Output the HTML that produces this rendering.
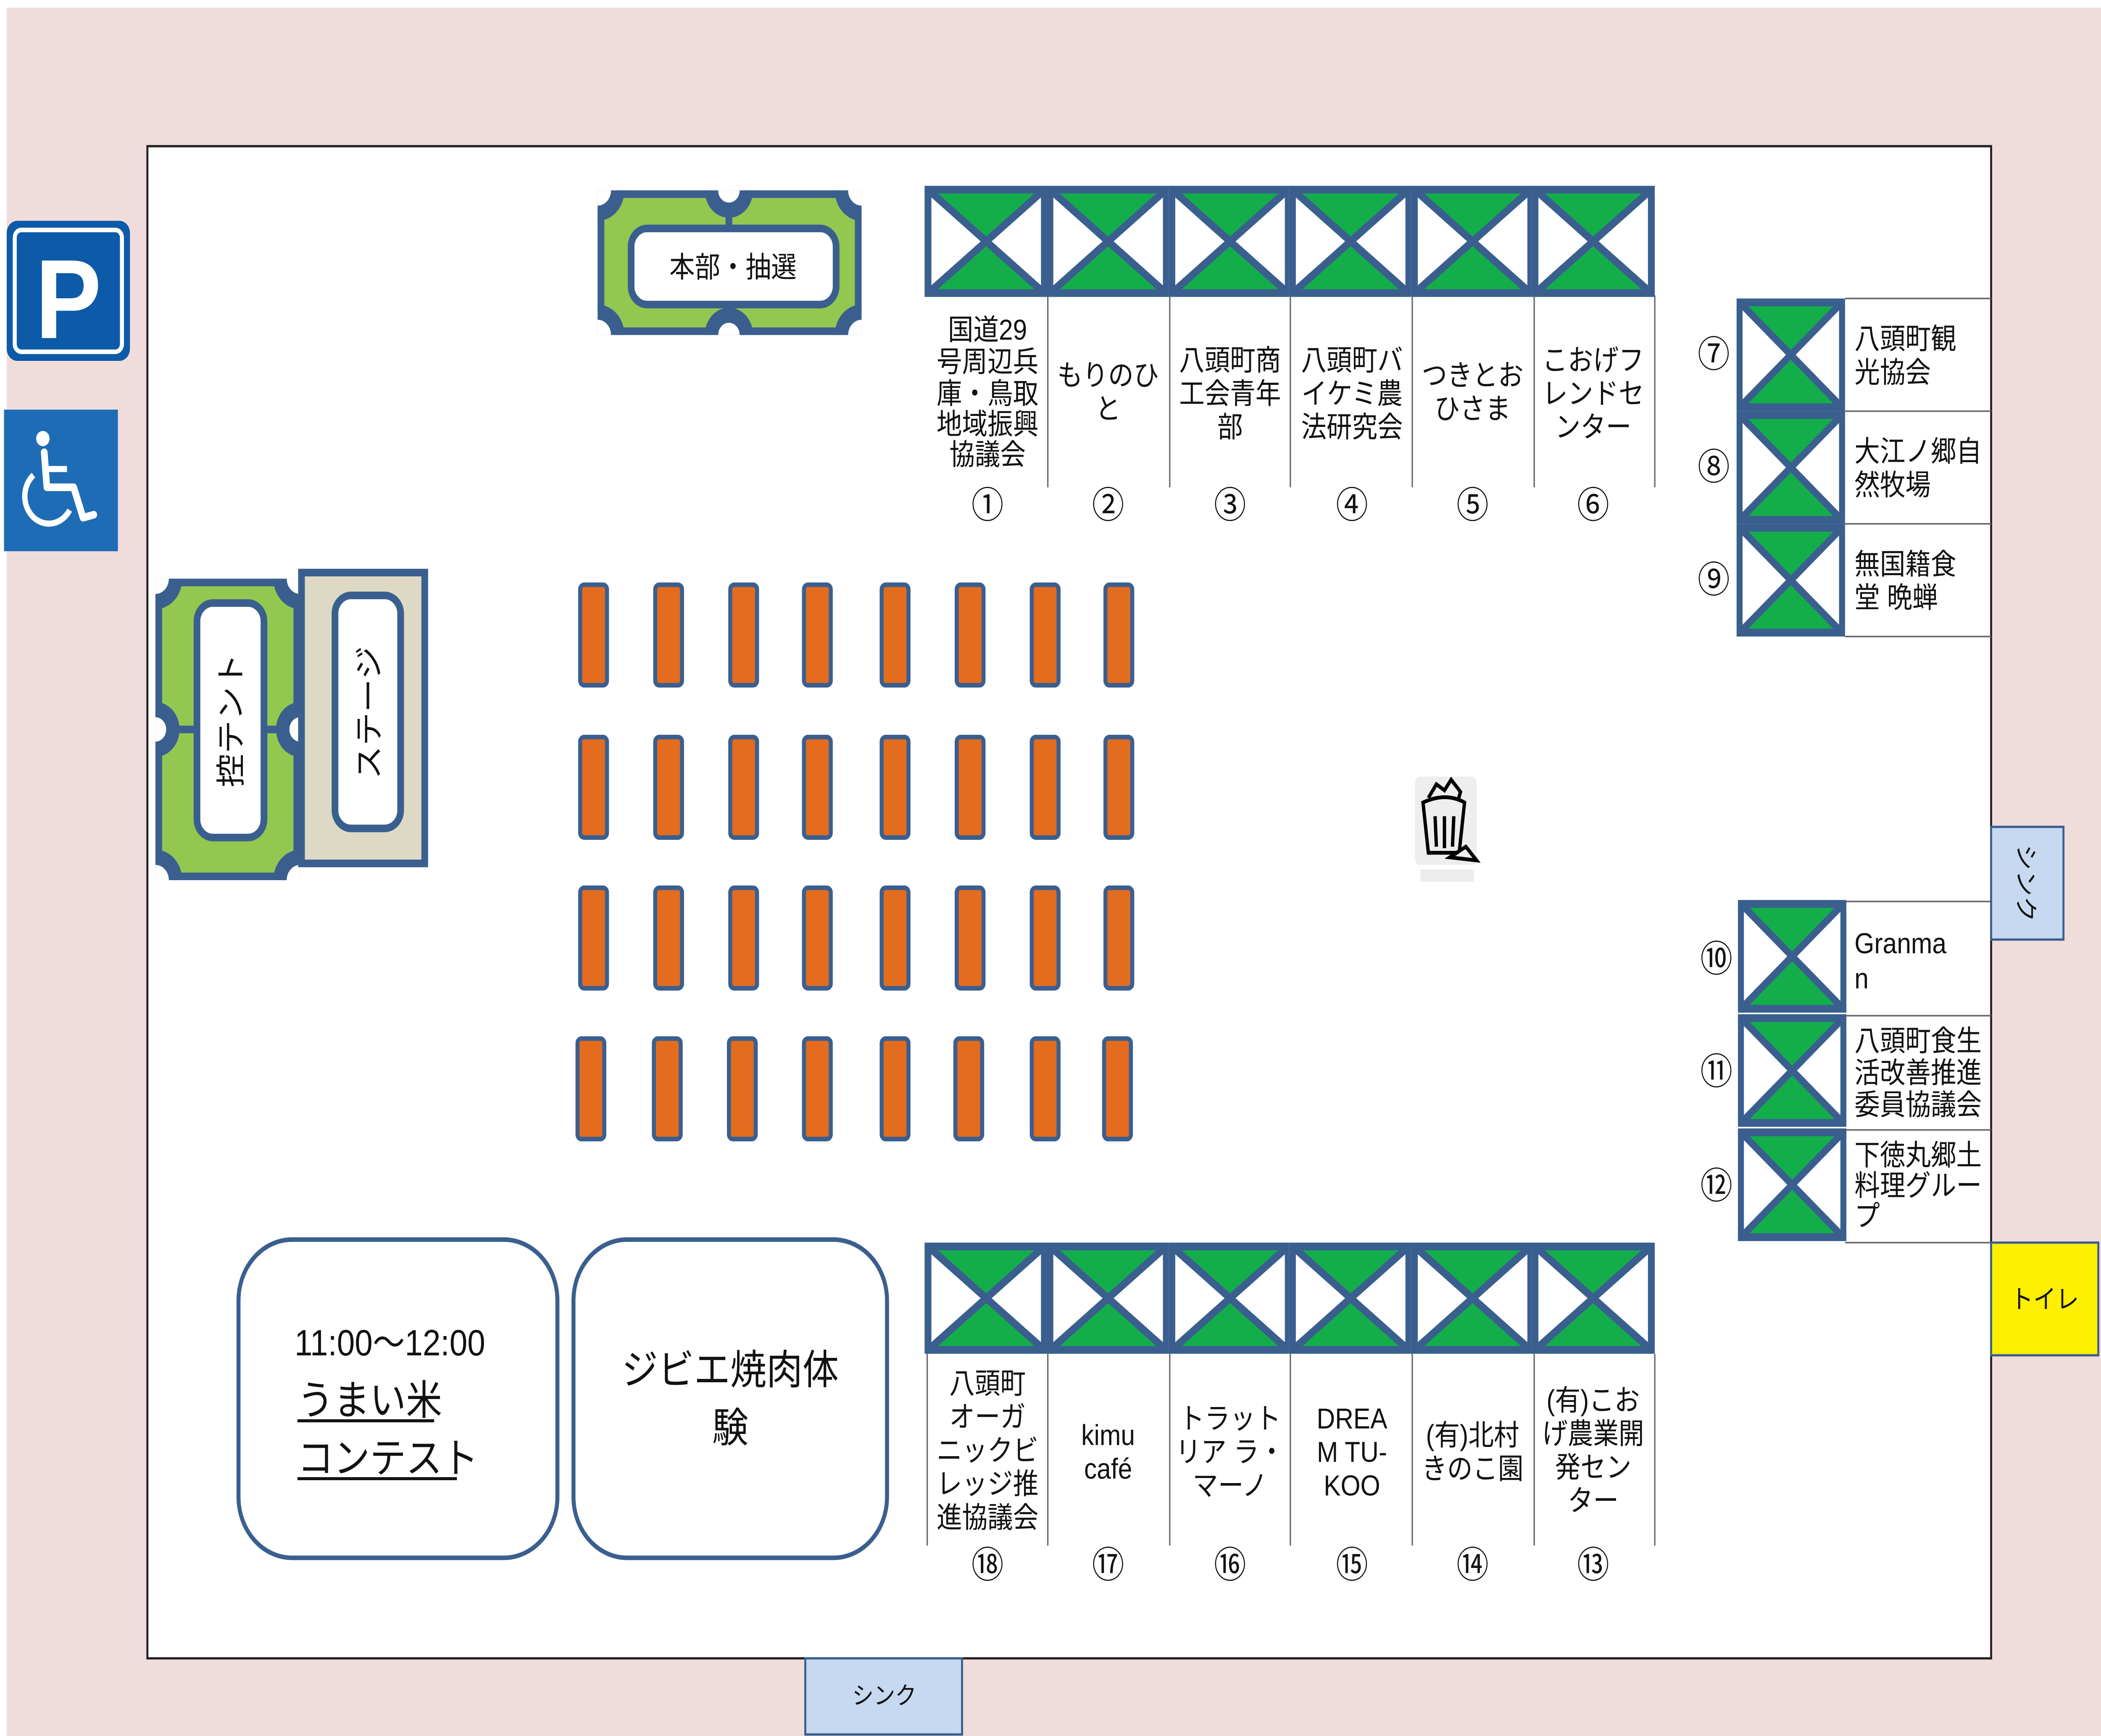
<!DOCTYPE html>
<html><head><meta charset="utf-8"><style>
html,body{margin:0;padding:0;background:#fff;width:100%;height:100%;overflow:hidden;}
svg{display:block;position:absolute;left:0;top:0;width:100vw;height:100vh;}
text{font-family:"Liberation Sans","Noto Sans CJK JP",sans-serif;fill:#111;}
</style></head><body>
<svg xmlns="http://www.w3.org/2000/svg" viewBox="0 0 1568 1140" preserveAspectRatio="none">
<defs>
<symbol id="b" viewBox="0 0 90 72" preserveAspectRatio="none">
<rect x="0" y="0" width="90" height="72" fill="#fff"/>
<polygon points="0,0 90,0 45,36" fill="#13ae4a"/>
<polygon points="0,72 90,72 45,36" fill="#13ae4a"/>
<line x1="2" y1="2" x2="88" y2="70" stroke="#3a5f8f" stroke-width="5"/>
<line x1="88" y1="2" x2="2" y2="70" stroke="#3a5f8f" stroke-width="5"/>
<rect x="2.5" y="2.5" width="85" height="67" fill="none" stroke="#3a5f8f" stroke-width="5"/>
</symbol>
<rect id="t" width="20" height="66" rx="3" fill="#e36c1f" stroke="#3a5f8f" stroke-width="3"/>
<clipPath id="c1"><rect x="116" y="380" width="108" height="198"/></clipPath>
<clipPath id="c2"><rect x="446" y="125" width="197" height="95"/></clipPath>
</defs>
<rect x="0" y="0" width="1568" height="1140" fill="#fff"/>
<rect x="5" y="5" width="1563" height="1135" fill="#f1dcdc"/>
<rect x="110" y="96" width="1376" height="993" fill="#fff" stroke="#222" stroke-width="1.5"/>

<rect x="5" y="145" width="92" height="92" rx="8" fill="#0c5aa8"/>
<rect x="11" y="151" width="80" height="80" rx="5" fill="none" stroke="#fff" stroke-width="3"/>
<text x="51" y="222" font-size="74" font-weight="bold" text-anchor="middle" style="fill:#fff">P</text>
<rect x="3" y="269" width="85" height="93" fill="#1f6cb6"/>
<circle cx="32" cy="288" r="5" fill="#fff"/>
<path d="M33 297 L35 320 L55 320 L62 340 L70 338" fill="none" stroke="#fff" stroke-width="5" stroke-linecap="round" stroke-linejoin="round"/>
<path d="M25 312 A18 18 0 1 0 52 335" fill="none" stroke="#fff" stroke-width="4"/>
<line x1="34" y1="308" x2="50" y2="308" stroke="#fff" stroke-width="4"/>

<g clip-path="url(#c2)">
<rect x="446" y="125" width="197" height="95" fill="#92c850" stroke="#3a5f8f" stroke-width="10"/>
<line x1="544" y1="125" x2="544" y2="220" stroke="#3a5f8f" stroke-width="5"/>
<g fill="#fff" stroke="#3a5f8f" stroke-width="10">
<circle cx="446" cy="125" r="15"/><circle cx="643" cy="125" r="15"/>
<circle cx="446" cy="220" r="15"/><circle cx="643" cy="220" r="15"/>
<circle cx="544" cy="125" r="13"/><circle cx="544" cy="220" r="13"/>
</g></g>
<rect x="471" y="150" width="153" height="50" rx="12" fill="#fff" stroke="#3a5f8f" stroke-width="5"/>
<text x="547" y="182" font-size="19" text-anchor="middle">本部・抽選</text>

<g clip-path="url(#c1)">
<rect x="116" y="380" width="108" height="198" fill="#92c850" stroke="#3a5f8f" stroke-width="10"/>
<line x1="116" y1="479" x2="224" y2="479" stroke="#3a5f8f" stroke-width="5"/>
<g fill="#fff" stroke="#3a5f8f" stroke-width="10">
<circle cx="116" cy="380" r="15"/><circle cx="224" cy="380" r="15"/>
<circle cx="116" cy="578" r="15"/><circle cx="224" cy="578" r="15"/>
<circle cx="116" cy="479" r="13"/><circle cx="224" cy="479" r="13"/>
</g></g>
<rect x="147" y="396" width="50" height="154" rx="12" fill="#fff" stroke="#3a5f8f" stroke-width="5"/>
<text transform="translate(180,473) rotate(-90)" font-size="22" text-anchor="middle">控テント</text>
<rect x="225" y="376" width="92" height="191" fill="#ddd9c4" stroke="#3a5f8f" stroke-width="5"/>
<rect x="250" y="391" width="49" height="153" rx="12" fill="#fff" stroke="#3a5f8f" stroke-width="5"/>
<text transform="translate(283,468) rotate(-90)" font-size="22" text-anchor="middle">ステージ</text>

<g>
<use href="#t" x="433" y="384"/><use href="#t" x="489" y="384"/><use href="#t" x="545" y="384"/><use href="#t" x="600" y="384"/><use href="#t" x="658" y="384"/><use href="#t" x="714" y="384"/><use href="#t" x="770" y="384"/><use href="#t" x="825" y="384"/>
<use href="#t" x="433" y="484"/><use href="#t" x="489" y="484"/><use href="#t" x="545" y="484"/><use href="#t" x="600" y="484"/><use href="#t" x="658" y="484"/><use href="#t" x="714" y="484"/><use href="#t" x="770" y="484"/><use href="#t" x="825" y="484"/>
<use href="#t" x="433" y="583"/><use href="#t" x="489" y="583"/><use href="#t" x="545" y="583"/><use href="#t" x="600" y="583"/><use href="#t" x="658" y="583"/><use href="#t" x="714" y="583"/><use href="#t" x="770" y="583"/><use href="#t" x="825" y="583"/>
<use href="#t" x="431" y="682"/><use href="#t" x="488" y="682"/><use href="#t" x="544" y="682"/><use href="#t" x="600" y="682"/><use href="#t" x="658" y="682"/><use href="#t" x="713" y="682"/><use href="#t" x="770" y="682"/><use href="#t" x="824" y="682"/>
</g>

<g stroke="#666" stroke-width="1">
<line x1="782" y1="194" x2="782" y2="320"/><line x1="873" y1="194" x2="873" y2="320"/><line x1="963" y1="194" x2="963" y2="320"/><line x1="1054" y1="194" x2="1054" y2="320"/><line x1="1145" y1="194" x2="1145" y2="320"/><line x1="1235" y1="194" x2="1235" y2="320"/>
<line x1="692" y1="889" x2="692" y2="1015"/><line x1="782" y1="889" x2="782" y2="1015"/><line x1="873" y1="889" x2="873" y2="1015"/><line x1="963" y1="889" x2="963" y2="1015"/><line x1="1054" y1="889" x2="1054" y2="1015"/><line x1="1145" y1="889" x2="1145" y2="1015"/><line x1="1235" y1="889" x2="1235" y2="1015"/>
<line x1="1377" y1="196" x2="1486" y2="196"/><line x1="1377" y1="270" x2="1486" y2="270"/><line x1="1377" y1="344" x2="1486" y2="344"/><line x1="1377" y1="418" x2="1486" y2="418"/>
<line x1="1377" y1="592" x2="1486" y2="592"/><line x1="1377" y1="667" x2="1486" y2="667"/><line x1="1377" y1="742" x2="1486" y2="742"/><line x1="1377" y1="816" x2="1486" y2="816"/>
</g>
<use href="#b" x="690" y="122" width="92" height="73"/><use href="#b" x="781" y="122" width="92" height="73"/><use href="#b" x="872" y="122" width="92" height="73"/><use href="#b" x="962" y="122" width="92" height="73"/><use href="#b" x="1053" y="122" width="92" height="73"/><use href="#b" x="1143" y="122" width="92" height="73"/>
<use href="#b" x="690" y="816" width="92" height="73"/><use href="#b" x="781" y="816" width="92" height="73"/><use href="#b" x="872" y="816" width="92" height="73"/><use href="#b" x="962" y="816" width="92" height="73"/><use href="#b" x="1053" y="816" width="92" height="73"/><use href="#b" x="1143" y="816" width="92" height="73"/>
<use href="#b" x="1296" y="196" width="81" height="74"/><use href="#b" x="1296" y="270" width="81" height="74"/><use href="#b" x="1296" y="344" width="81" height="74"/>
<use href="#b" x="1297" y="591" width="81" height="74"/><use href="#b" x="1297" y="666" width="81" height="74"/><use href="#b" x="1297" y="741" width="81" height="74"/>

<g font-size="19" text-anchor="middle">
<text x="737" y="223">国道29</text><text x="737" y="244">号周辺兵</text><text x="737" y="265">庫・鳥取</text><text x="737" y="285">地域振興</text><text x="737" y="305">協議会</text>
<text x="827" y="253">もりのひ</text><text x="827" y="275">と</text>
<text x="918" y="243">八頭町商</text><text x="918" y="265">工会青年</text><text x="918" y="287">部</text>
<text x="1009" y="243">八頭町バ</text><text x="1009" y="265">イケミ農</text><text x="1009" y="287">法研究会</text>
<text x="1099" y="253">つきとお</text><text x="1099" y="275">ひさま</text>
<text x="1189" y="243">こおげフ</text><text x="1189" y="265">レンドセ</text><text x="1189" y="287">ンター</text>
<text x="737" y="915">八頭町</text><text x="737" y="937">オーガ</text><text x="737" y="959">ニックビ</text><text x="737" y="981">レッジ推</text><text x="737" y="1003">進協議会</text>
<text x="827" y="949">kimu</text><text x="827" y="971">café</text>
<text x="918" y="938">トラット</text><text x="918" y="960">リア ラ・</text><text x="918" y="982">マーノ</text>
<text x="1009" y="938">DREA</text><text x="1009" y="960">M TU-</text><text x="1009" y="982">KOO</text>
<text x="1099" y="949">(有)北村</text><text x="1099" y="971">きのこ園</text>
<text x="1189" y="926">(有)こお</text><text x="1189" y="948">げ農業開</text><text x="1189" y="970">発セン</text><text x="1189" y="992">ター</text>
</g>
<g font-size="24" text-anchor="middle">
<text x="737" y="340">①</text><text x="827" y="340">②</text><text x="918" y="340">③</text><text x="1009" y="340">④</text><text x="1099" y="340">⑤</text><text x="1189" y="340">⑥</text>
<text x="737" y="1036">⑱</text><text x="827" y="1036">⑰</text><text x="918" y="1036">⑯</text><text x="1009" y="1036">⑮</text><text x="1099" y="1036">⑭</text><text x="1189" y="1036">⑬</text>
<text x="1279" y="241">⑦</text><text x="1279" y="315">⑧</text><text x="1279" y="389">⑨</text>
<text x="1281" y="638">⑩</text><text x="1281" y="712">⑪</text><text x="1281" y="787">⑫</text>
</g>
<g font-size="19">
<text x="1384" y="229">八頭町観</text><text x="1384" y="251">光協会</text>
<text x="1384" y="303">大江ノ郷自</text><text x="1384" y="325">然牧場</text>
<text x="1384" y="377">無国籍食</text><text x="1384" y="399">堂 晩蝉</text>
<text x="1384" y="626">Granma</text><text x="1384" y="649">n</text>
<text x="1384" y="690">八頭町食生</text><text x="1384" y="711">活改善推進</text><text x="1384" y="732">委員協議会</text>
<text x="1384" y="765">下徳丸郷土</text><text x="1384" y="785">料理グルー</text><text x="1384" y="805">プ</text>
</g>

<rect x="1486" y="543" width="54" height="74" fill="#c6d9f0" stroke="#3a5f8f" stroke-width="1.5"/>
<text transform="translate(1506,580) rotate(90)" font-size="17" text-anchor="middle">シンク</text>
<rect x="1486" y="816" width="80" height="74" fill="#ffef00" stroke="#3a5f8f" stroke-width="1.5"/>
<text x="1526" y="859" font-size="17" text-anchor="middle">トイレ</text>
<rect x="601" y="1089" width="117" height="50" fill="#c6d9f0" stroke="#3a5f8f" stroke-width="1.5"/>
<text x="660" y="1119" font-size="16" text-anchor="middle">シンク</text>

<rect x="1056" y="510" width="46" height="58" rx="4" fill="#eee"/>
<path d="M1062 527 Q1079 520 1093 527 L1089 560 L1066 560 Z" fill="#eee" stroke="#000" stroke-width="2.5"/>
<path d="M1066 524 L1072 515 L1078 519 L1083 512 L1090 520 L1088 526" fill="none" stroke="#000" stroke-width="2.5"/>
<line x1="1071" y1="536" x2="1072" y2="556" stroke="#000" stroke-width="2.5"/>
<line x1="1078" y1="536" x2="1078" y2="557" stroke="#000" stroke-width="2.5"/>
<line x1="1085" y1="536" x2="1084" y2="556" stroke="#000" stroke-width="2.5"/>
<path d="M1082 563 L1094 556 L1102 565 Z" fill="#eee" stroke="#000" stroke-width="2.5"/>
<rect x="1060" y="571" width="40" height="8" fill="#e4e4e4" opacity="0.7"/>

<rect x="178" y="814" width="238" height="209" rx="40" fill="#fff" stroke="#3a5f8f" stroke-width="3"/>
<text x="291" y="890" font-size="24" text-anchor="middle">11:00〜12:00</text>
<text x="222" y="929" font-size="27">うまい米</text>
<text x="222" y="967" font-size="27">コンテスト</text>
<line x1="222" y1="933" x2="324" y2="933" stroke="#111" stroke-width="2"/>
<line x1="222" y1="971" x2="341" y2="971" stroke="#111" stroke-width="2"/>
<rect x="428" y="814" width="234" height="209" rx="40" fill="#fff" stroke="#3a5f8f" stroke-width="3"/>
<text x="545" y="909" font-size="27" text-anchor="middle">ジビエ焼肉体</text>
<text x="545" y="947" font-size="27" text-anchor="middle">験</text>
</svg>
</body></html>
